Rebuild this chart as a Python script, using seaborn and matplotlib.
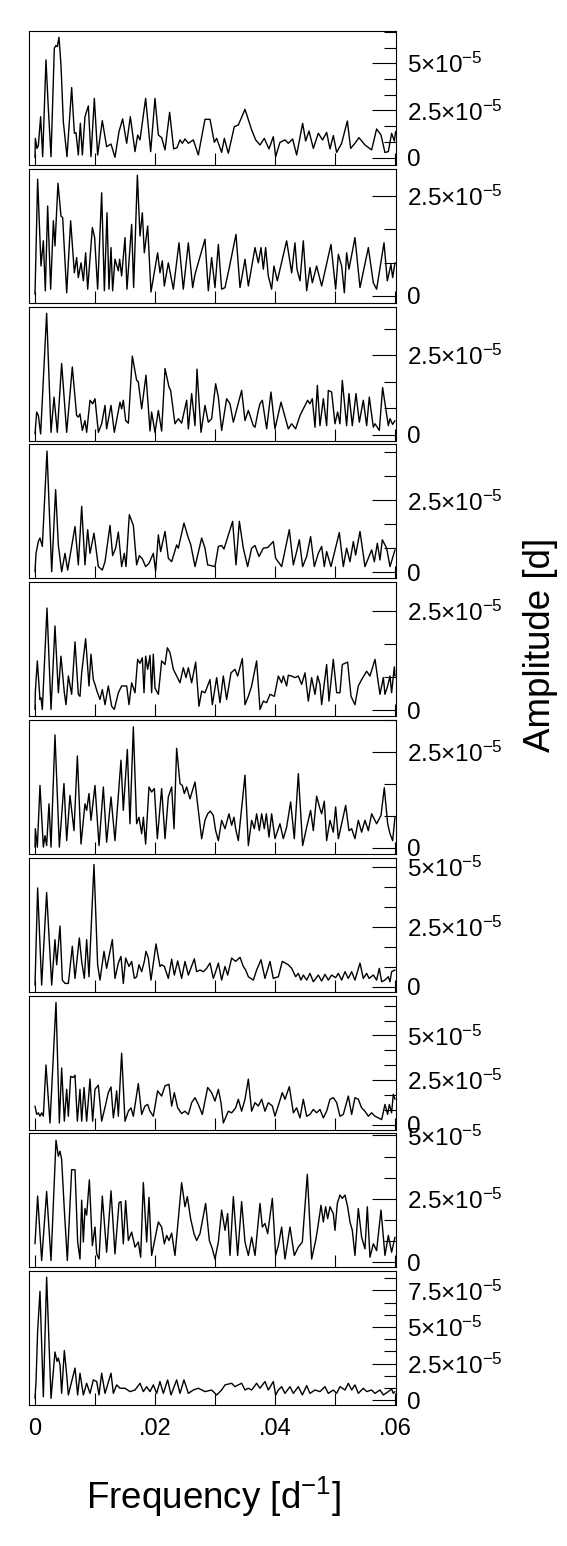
import numpy as np
import pandas as pd
import matplotlib
matplotlib.use("Agg")
import matplotlib.pyplot as plt
import seaborn as sns
from matplotlib.ticker import FixedLocator, FuncFormatter

sns.set_style("white")
plt.rcParams['font.family'] = ['Liberation Sans', 'DejaVu Sans']
plt.rcParams['mathtext.fontset'] = 'custom'
plt.rcParams['mathtext.rm'] = 'Liberation Sans'
plt.rcParams['mathtext.it'] = 'Liberation Sans:italic'
plt.rcParams['mathtext.bf'] = 'Liberation Sans:bold'
plt.rcParams['text.color'] = 'black'
plt.rcParams['axes.labelcolor'] = 'black'
plt.rcParams['xtick.color'] = 'black'
plt.rcParams['ytick.color'] = 'black'

# ---------------- data (frequency in 1e-3 d^-1, amplitude in 1e-5 d) ----------------
f1 = [0.00,0.06,0.33,0.56,0.94,1.28,1.83,2.22,2.67,3.22,3.50,3.72,4.00,4.33,4.72,5.33,6.11,6.56,6.83,7.22,7.56,7.89,8.33,8.89,9.33,9.89,10.44,11.22,11.94,12.67,13.33,14.0,14.61,15.28,15.89,16.67,17.11,17.5,18.44,19.28,20.0,20.56,21.11,21.67,22.44,23.11,23.67,24.17,24.56,25.0,25.56,26.39,27.22,28.33,29.17,29.89,30.28,31.11,31.56,32.22,33.22,33.89,35.0,36.11,36.78,37.5,38.22,39.0,39.72,40.11,40.83,41.67,42.22,42.94,43.61,44.61,45.11,45.67,46.39,47.22,47.94,48.61,49.17,49.72,50.28,51.11,52.06,52.61,53.33,54.0,55.0,56.11,56.94,57.67,58.33,58.89,59.44,59.89,60.1]
a1 = [0.00,1.02,0.49,0.64,2.17,0.05,5.18,2.61,0.05,5.80,5.94,5.88,6.38,4.91,1.91,0.05,3.71,1.29,1.33,0.14,1.82,0.14,2.17,2.74,0.05,3.14,0.14,1.96,0.58,0.72,0.02,1.38,2.05,0.76,2.17,0.32,1.20,0.94,3.14,0.32,3.14,1.20,1.06,0.41,2.40,0.46,0.53,0.94,0.76,0.99,0.76,0.94,0.14,2.03,2.03,0.81,1.02,0.28,1.02,0.23,1.64,1.73,2.56,1.47,0.94,0.67,1.02,0.46,1.11,0.05,0.81,0.94,0.76,0.99,0.14,1.82,0.88,1.41,0.49,1.29,0.94,1.34,0.46,1.17,0.28,0.76,1.94,0.49,0.76,1.06,0.67,0.41,1.52,1.20,0.27,0.32,1.29,0.88,1.38]

f2 = [0,0.44,1.0,1.39,1.72,2.11,2.61,3.06,3.33,3.83,4.33,4.61,5.28,5.94,6.56,6.94,7.22,7.67,8.06,8.44,8.78,9.56,9.94,10.44,11.11,11.56,12.0,12.33,12.67,12.94,13.33,13.89,14.11,14.44,15.0,15.33,16.11,16.44,17.06,17.5,17.89,18.22,18.78,19.33,20.44,20.83,21.22,21.56,22.22,23.06,24.0,24.72,25.56,26.28,26.67,28.33,28.89,29.44,30.0,30.56,31.11,31.67,32.33,33.5,34.17,34.72,35.0,35.56,36.67,37.22,37.67,38.06,38.44,38.89,39.44,39.83,40.39,41.94,42.78,43.33,43.67,44.17,44.72,45.28,45.83,46.22,46.94,47.78,49.33,50.11,50.56,51.11,51.56,51.94,52.33,53.33,54.17,55.56,56.39,56.94,58.17,58.72,59.33,59.61,60.0]
a2 = [0.04,2.92,0.75,1.38,0.13,2.25,0.17,1.88,1.25,2.82,2.0,1.96,0.08,1.88,0.58,0.96,0.46,0.83,0.38,1.08,0.17,1.71,1.46,0.17,2.58,0.13,2.08,0.17,1.21,0.13,0.92,0.63,0.92,0.5,1.46,0.17,1.79,0.21,3.02,1.5,2.08,1.08,1.75,0.1,1.08,0.58,0.88,0.25,0.83,0.17,1.33,0.17,1.33,0.21,0.54,1.42,0.13,0.96,0.21,1.29,0.17,0.21,0.67,1.54,0.21,0.67,0.92,0.25,1.21,0.83,1.21,0.67,1.21,0.5,0.17,0.75,0.38,1.38,0.58,1.33,0.67,0.38,1.38,0.13,0.71,0.33,0.75,0.25,1.29,0.17,1.04,0.75,0.08,1.08,0.67,1.46,0.21,1.21,0.33,0.17,1.33,0.38,0.79,0.46,0.83]

f3 = [0,0.28,0.56,0.94,1.94,2.67,3.17,3.72,4.44,5.28,6.22,6.94,7.22,7.5,7.89,8.33,8.61,9.17,9.61,10.0,10.56,11.11,11.67,11.94,12.67,13.22,14.17,14.44,14.72,15.11,15.56,16.22,16.94,17.22,17.78,18.5,19.17,19.44,20.0,20.56,21.11,21.67,22.33,22.61,23.33,23.89,24.44,25.28,25.56,26.11,26.67,27.0,27.67,28.33,28.89,29.44,30.11,30.56,31.11,31.94,32.5,33.06,34.44,35.0,35.56,36.39,36.67,37.22,37.5,37.89,38.61,39.33,40.0,41.0,42.22,42.78,43.44,44.17,44.72,45.44,45.83,46.22,46.67,47.06,47.5,48.06,48.61,48.89,49.44,50.0,50.44,50.83,51.22,51.94,52.33,52.89,53.5,54.06,54.72,55.28,55.72,56.39,56.67,57.39,57.94,58.89,59.17,59.61,60.0]
a3 = [0.02,0.71,0.6,0.02,3.82,0.07,1.18,0.07,2.24,0.07,2.13,0.6,0.55,0.65,0.13,0.44,0.07,1.08,0.97,1.13,0.07,0.34,0.92,0.18,0.92,0.07,1.02,0.81,1.08,0.44,0.36,2.47,1.71,1.66,0.81,1.87,0.11,0.71,0.07,0.76,0.11,2.08,1.5,1.39,0.34,0.5,0.36,1.08,0.18,1.29,0.28,2.06,0.07,0.92,0.39,0.5,1.6,1.18,0.13,1.13,0.97,0.39,1.39,0.44,0.76,0.28,0.23,0.76,0.97,1.08,0.18,1.34,0.18,1.02,0.18,0.34,0.18,0.6,0.81,1.08,0.97,1.13,0.23,1.55,0.28,1.13,0.28,1.39,1.34,0.34,0.71,0.34,1.71,0.28,1.29,0.28,1.29,0.39,1.08,0.28,1.18,0.23,0.34,0.13,1.48,0.28,0.5,0.32,0.44]

f4 = [0,0.17,0.56,0.83,1.22,2.0,2.78,3.44,3.89,4.44,5.0,5.44,6.67,7.22,7.78,8.33,8.78,9.17,9.83,10.56,11.22,11.67,12.5,12.94,13.44,13.89,14.44,14.89,15.17,15.72,16.39,16.94,17.39,17.89,18.44,19.0,19.72,20.11,20.56,20.94,21.67,22.22,22.78,23.61,23.89,24.83,25.56,25.94,26.67,27.78,28.33,28.78,30.0,30.56,31.11,31.5,32.94,33.5,34.06,34.72,35.44,36.11,36.67,37.33,38.06,38.78,39.72,40.11,41.11,42.39,43.06,43.61,44.06,44.61,45.28,45.94,46.56,47.22,47.78,48.22,48.61,49.33,50.72,51.39,51.94,52.5,53.06,53.44,54.17,55.0,56.11,56.56,57.06,57.5,57.89,58.61,59.17,60.0]
a4 = [0.02,0.66,1.07,1.19,0.9,4.21,0.02,2.87,0.95,0.02,0.66,0.08,1.59,0.26,2.29,0.26,1.48,0.66,1.36,0.2,0.08,0.37,1.63,0.58,0.84,1.4,0.2,0.66,0.2,2.0,1.63,0.26,0.58,0.47,0.2,0.31,0.66,0.05,1.3,0.72,1.42,0.49,0.37,0.95,0.84,1.71,1.19,0.98,0.2,1.19,0.84,0.26,0.2,0.9,0.93,0.81,1.77,0.26,1.77,0.84,0.2,0.84,0.93,0.55,0.84,0.86,1.07,0.49,0.2,1.48,0.26,0.72,1.13,0.2,0.55,1.24,0.2,0.66,0.9,0.2,0.72,0.2,1.38,0.2,0.84,0.37,1.07,0.6,1.42,0.2,0.78,0.37,1.01,0.43,1.13,0.84,0.2,0.78]

f5 = [0,0.06,0.39,0.83,1.0,1.22,2.0,2.67,3.33,3.89,4.33,4.89,5.17,5.56,6.11,6.67,7.22,7.5,7.78,8.44,9.0,9.33,9.72,10.0,10.33,10.83,11.22,11.67,12.22,12.78,13.22,13.89,14.44,15.28,15.67,16.11,16.67,17.11,17.5,17.89,18.17,18.44,18.78,19.17,19.44,19.72,20.0,20.56,21.11,21.67,22.06,22.5,23.06,23.61,24.17,24.72,25.17,25.56,26.11,26.78,27.33,27.78,28.33,29.17,29.56,30.28,30.83,31.39,31.94,32.67,33.33,33.78,34.56,35.0,35.56,36.11,36.94,37.5,38.06,38.61,39.17,39.89,40.56,41.11,41.39,41.94,42.22,42.78,43.33,43.89,44.44,45.0,45.56,46.11,46.67,47.11,47.5,47.78,48.61,49.0,49.72,50.28,50.83,51.22,52.11,52.67,53.33,53.89,54.44,55.28,55.83,56.67,57.22,57.5,58.06,58.33,58.78,59.17,59.44,59.89,60.0]
a5 = [0.02,0.48,1.24,0.27,0.31,0.02,2.57,0.02,2.12,0.44,1.36,0.44,0.14,0.86,0.4,1.72,0.4,0.35,0.94,1.8,0.61,1.41,0.77,0.65,0.48,0.27,0.52,0.14,0.61,0.1,0.02,0.44,0.61,0.61,0.14,0.69,0.44,1.28,1.18,1.32,0.44,1.36,1.03,1.38,0.44,1.41,0.56,0.4,1.24,1.15,1.57,1.45,1.03,0.86,0.69,1.07,0.82,1.07,0.69,1.21,0.1,0.48,0.44,0.77,0.14,0.82,0.19,0.86,0.27,0.94,1.03,0.86,1.3,0.14,0.35,0.61,1.24,0.02,0.23,0.19,0.4,0.35,0.86,0.69,0.86,0.61,0.88,0.86,0.82,0.86,0.65,0.94,0.23,0.82,0.4,0.86,0.65,0.14,1.15,0.23,1.28,0.44,0.44,1.15,1.21,0.35,0.14,0.61,0.77,0.98,0.86,1.28,0.69,0.4,0.82,0.4,0.61,0.86,0.44,1.09,0.86]

f6 = [0,0.06,0.39,0.83,1.39,1.67,1.94,2.33,2.67,3.33,4.06,4.83,5.28,5.83,6.5,7.06,7.67,8.33,8.61,9.0,9.33,10.0,10.67,11.39,11.94,12.67,13.33,14.33,14.72,15.39,15.83,16.39,16.94,17.33,17.78,18.06,18.44,19.0,19.44,19.89,20.39,21.11,21.67,22.22,22.78,23.17,23.61,24.17,24.56,24.89,25.28,25.83,26.67,27.22,27.78,28.33,28.78,29.22,29.72,30.11,30.56,31.11,31.67,32.33,32.78,33.17,33.44,33.89,35.0,35.56,36.11,36.56,36.94,37.39,37.78,38.22,38.56,39.0,39.44,40.0,40.83,41.39,41.94,42.61,43.22,43.89,44.61,45.28,45.94,46.39,46.94,47.5,47.78,48.22,48.61,49.17,49.72,50.11,50.56,51.11,51.78,52.33,52.78,53.33,53.89,54.44,55.0,55.56,56.11,56.94,57.67,58.22,58.78,59.17,59.61,60.0]
a6 = [0.02,0.5,0.02,1.63,0.02,0.32,0.06,1.15,0.02,2.95,0.02,1.68,0.19,1.37,0.45,2.4,0.1,1.15,0.98,1.42,0.72,1.63,0.06,1.59,0.15,1.33,0.19,2.29,0.98,2.57,0.63,3.16,0.63,0.8,0.37,0.8,0.1,1.59,1.46,1.55,0.24,1.55,0.24,1.33,1.59,0.5,2.6,1.68,1.63,1.42,1.59,1.28,1.72,0.98,0.24,0.72,0.89,0.96,0.85,0.45,0.19,0.72,0.5,0.89,0.59,0.8,0.5,0.19,1.9,0.06,0.72,0.5,0.89,0.45,0.89,0.5,0.89,0.28,0.89,0.24,0.63,0.24,0.54,1.2,0.24,1.94,0.06,0.54,0.98,0.45,1.35,1.02,0.89,1.22,0.19,0.72,0.41,1.07,0.24,0.63,1.11,0.45,0.5,0.24,0.72,0.41,0.72,0.45,0.89,0.63,0.85,1.57,0.63,0.37,0.19,0.8]

f7 = [0,0.44,1.11,1.94,2.78,3.33,3.61,4.17,4.56,5.0,5.56,6.22,6.67,7.39,7.78,8.22,8.61,9.0,9.83,10.44,10.83,11.5,11.94,12.89,13.33,13.89,14.33,14.72,15.11,15.67,16.11,16.56,16.94,17.33,17.78,18.22,18.5,18.89,19.33,20.17,20.83,21.11,21.56,22.22,22.78,23.22,23.78,24.44,25.0,25.56,26.56,26.94,27.5,28.06,28.61,29.17,29.72,30.11,30.56,31.11,31.67,32.11,32.78,33.44,34.17,34.72,35.11,35.56,36.39,36.94,37.67,38.33,39.17,39.72,40.56,41.22,42.22,42.78,43.44,43.89,44.33,44.72,45.28,45.83,46.39,47.22,47.78,48.33,48.89,49.44,50.11,50.56,51.11,51.67,52.22,52.78,53.33,54.17,54.72,55.28,55.67,56.39,56.94,57.39,57.78,58.33,58.89,59.17,59.44,60.0]
a7 = [0.07,4.13,0.07,3.94,0.07,1.97,0.92,2.54,0.28,0.14,0.14,1.69,0.35,2.04,1.06,0.35,1.97,0.42,5.11,0.92,0.28,1.48,0.77,1.97,0.35,0.99,1.27,0.14,1.2,0.85,1.06,0.35,0.42,0.92,0.63,1.06,1.48,1.2,0.28,1.79,0.85,0.92,0.85,0.35,1.15,0.49,1.08,0.35,1.06,0.49,1.17,0.63,0.7,0.63,0.77,0.99,0.35,0.63,0.99,0.28,0.85,0.49,1.2,1.06,1.23,0.85,0.7,0.42,0.28,0.7,1.13,0.35,1.06,0.35,0.42,1.06,0.92,0.77,0.42,0.56,0.28,0.49,0.28,0.56,0.21,0.49,0.24,0.52,0.28,0.49,0.38,0.56,0.28,0.63,0.35,0.63,0.28,0.99,0.35,0.56,0.35,0.49,0.28,0.77,0.21,0.28,0.42,0.21,0.63,0.7]

f8 = [0,0.28,0.56,0.83,1.11,1.39,1.83,2.5,3.5,4.06,4.44,4.89,5.28,5.56,5.94,6.39,6.67,7.06,7.5,7.78,8.17,8.61,9.17,9.61,10.0,10.56,11.11,11.78,12.22,12.67,13.06,13.33,13.61,13.89,14.44,15.0,15.56,16.0,16.39,17.22,17.78,18.33,18.78,19.17,19.72,20.44,21.11,21.67,22.33,22.78,23.22,23.78,24.44,25.0,25.56,26.11,26.67,27.22,27.89,28.78,29.44,30.0,30.56,31.0,31.39,32.22,32.78,33.44,33.89,34.44,35.0,35.56,36.11,36.67,37.22,37.78,38.33,38.89,39.56,40.0,41.22,41.67,42.39,43.06,43.61,44.17,44.72,45.28,45.83,46.39,46.94,47.5,48.06,48.61,49.17,49.72,50.28,50.83,51.39,52.22,52.78,53.33,53.89,54.44,55.0,55.56,56.11,56.67,57.22,57.78,58.33,58.78,59.06,59.44,59.72,60.0]
a8 = [1.04,0.57,0.66,0.47,0.66,0.47,3.34,0.09,6.85,0.09,3.17,0.19,1.98,0.47,2.7,2.64,2.77,0.19,1.98,0.19,2.08,0.19,2.55,0.19,1.98,2.21,0.19,1.13,1.79,2.11,0.38,1.04,1.89,0.47,4.0,0.19,0.75,0.94,0.47,2.3,0.57,1.04,1.13,0.75,0.47,1.89,1.6,2.17,2.26,1.04,1.79,0.94,0.62,0.75,0.57,1.23,1.51,1.13,0.57,2.08,1.79,1.32,1.98,1.23,0.09,0.75,0.66,0.94,1.42,0.75,1.42,2.55,0.75,1.23,1.04,1.42,0.75,1.23,1.04,0.47,1.79,1.42,2.13,0.66,0.94,0.38,1.42,0.47,0.57,0.85,0.66,0.85,0.38,0.75,1.42,1.51,1.23,0.47,0.57,1.6,0.57,1.51,1.42,0.94,0.75,0.47,0.66,0.47,0.38,0.28,1.13,0.57,1.13,0.66,1.7,1.42]

f9 = [0,0.44,1.11,1.94,2.67,3.5,3.89,4.17,4.44,4.89,5.39,6.11,6.67,7.11,7.5,7.78,8.06,8.33,8.61,9.06,9.56,10.0,10.28,10.67,11.22,11.94,12.67,13.33,14.0,14.33,14.72,15.11,15.56,16.11,16.67,17.22,17.61,18.06,18.61,19.0,19.44,20.0,20.56,21.11,21.56,21.94,22.33,22.78,23.33,24.44,25.0,25.39,25.94,26.5,26.94,27.5,28.44,29.06,29.56,30.0,30.56,31.11,31.67,32.11,32.5,33.06,33.78,34.44,35.0,35.56,36.11,36.67,37.5,37.89,38.33,38.78,39.56,40.11,40.56,41.11,41.67,42.5,43.22,43.89,44.56,45.39,46.11,46.78,47.11,47.67,48.06,48.44,48.78,49.17,49.72,50.0,50.39,50.83,51.22,51.67,52.11,52.5,52.89,53.33,53.89,54.44,55.0,55.39,55.83,56.39,56.94,57.67,58.33,58.89,59.44,60.0]
a9 = [0.73,2.61,0.07,2.79,0.07,4.81,4.18,4.38,4.05,2.06,0.07,3.65,3.65,0.8,0.13,2.45,0.8,2.12,1.86,3.25,0.66,1.39,0.33,0.13,2.61,0.4,2.82,0.33,2.35,2.39,0.73,2.43,0.86,1.19,0.6,0.8,0.2,3.14,0.8,2.56,0.27,0.93,1.59,1.39,0.73,1.06,0.86,1.15,0.27,3.14,2.19,2.59,1.72,1.13,0.86,1.13,2.32,0.86,0.53,0.13,0.8,2.06,1.26,1.92,0.27,2.59,0.27,2.39,0.8,0.27,0.99,0.27,2.32,1.39,1.53,1.13,2.52,0.27,0.66,1.39,0.13,1.39,0.27,0.6,0.8,3.47,0.13,0.86,1.33,2.25,1.59,2.19,1.72,2.19,1.92,1.26,2.32,2.65,2.52,2.65,2.19,1.59,1.26,0.27,2.12,0.99,0.53,2.19,0.2,0.73,0.46,2.06,0.27,1.06,0.4,0.99]

f10 = [0,0.17,0.44,0.83,1.39,1.94,2.67,3.33,3.67,3.89,4.17,4.44,4.89,5.28,5.56,6.11,6.67,7.11,7.5,8.06,8.61,9.17,9.72,10.28,10.67,11.11,11.67,12.67,13.06,13.61,14.17,15.0,15.83,16.67,17.5,18.06,18.61,19.17,19.72,20.28,20.83,21.39,22.11,22.67,23.61,24.17,24.83,25.56,26.39,27.22,28.33,29.44,30.28,31.11,31.67,32.78,33.33,33.89,34.44,35.0,35.56,36.11,36.94,37.5,38.33,38.89,39.72,40.11,40.56,41.11,41.67,42.5,43.06,43.89,44.56,45.28,45.83,46.67,47.5,48.33,48.89,49.72,50.28,50.83,51.67,52.22,52.78,53.33,53.89,54.72,55.28,56.11,56.67,57.5,58.06,58.89,59.44,59.72,60.0]
a10 = [0.12,1.27,4.72,7.44,0.23,8.41,0.12,3.29,2.65,2.88,2.42,0.46,3.39,1.73,0.35,1.27,2.19,0.35,1.84,0.35,1.15,0.46,1.38,1.27,0.35,1.84,0.46,1.84,0.46,1.04,0.81,0.81,0.58,0.69,1.15,0.58,0.92,0.58,1.04,0.46,1.27,0.46,1.38,0.35,1.38,0.46,1.38,0.46,0.69,0.81,0.58,0.69,0.35,0.69,1.04,1.15,0.92,1.04,1.15,0.69,0.81,0.69,1.15,0.81,1.27,0.69,1.27,0.35,0.69,0.92,0.46,0.92,0.46,0.92,0.35,0.99,0.46,0.69,0.58,0.92,0.46,0.69,0.46,0.92,0.69,1.15,0.69,1.04,0.46,0.81,0.58,0.69,0.46,0.69,0.35,0.58,0.76,0.46,0.58]

# y-range of each panel (1e-5 d)
y_ranges = [(-0.39, 6.71), (-0.17, 3.18), (-0.19, 4.03), (-0.21, 4.44), (-0.15, 3.22),
            (-0.16, 3.34), (-0.21, 5.39), (-0.28, 7.23), (-0.20, 5.08), (-0.35, 8.82)]

x_tick_values = [0.0, 0.02, 0.04, 0.06]
x_tick_labels = ["0", ".02", ".04", ".06"]
x_minor_values = [0.01, 0.03, 0.05]

FREQ_UNIT = 1e-3
AMP_UNIT = 1e-5

series = [(f1, a1), (f2, a2), (f3, a3), (f4, a4), (f5, a5),
          (f6, a6), (f7, a7), (f8, a8), (f9, a9), (f10, a10)]

# ---------------- figure ----------------
W, H = 567, 1546
fig = plt.figure(figsize=(W / 100, H / 100), dpi=100)

left_px, right_px = 29, 396
top0_px, pitch_px, height_px = 31, 137.8, 134


def amp_label(v, pos):
    m = round(v / AMP_UNIT, 3)
    if abs(m) < 1e-9:
        return "0"
    return rf"${m:g}{{\times}}10^{{-5}}$"


n = len(series)
for i, (f, a) in enumerate(series):
    top = top0_px + pitch_px * i
    ax = fig.add_axes([left_px / W, 1 - (top + height_px) / H,
                       (right_px - left_px) / W, height_px / H])
    df = pd.DataFrame({"freq": np.array(f) * FREQ_UNIT,
                       "amp": np.array(a) * AMP_UNIT})
    sns.lineplot(data=df, x="freq", y="amp", ax=ax, color="black",
                 linewidth=1.0, estimator=None, sort=False)
    ax.set_xlim(-0.001, 0.06017)
    ylo, yhi = y_ranges[i]
    ax.set_ylim(ylo * AMP_UNIT, yhi * AMP_UNIT)
    ax.set_xlabel("")
    ax.set_ylabel("")

    # x ticks
    ax.xaxis.set_major_locator(FixedLocator(x_tick_values))
    ax.xaxis.set_minor_locator(FixedLocator(x_minor_values))
    ax.set_xticklabels(x_tick_labels)
    ax.tick_params(axis="x", which="both", direction="in", length=9, width=0.8,
                   color="black", bottom=True, top=False,
                   labelbottom=(i == n - 1), pad=9, labelsize=17)

    # y ticks on the right
    majors = [k * 2.5 * AMP_UNIT for k in range(0, 5) if k * 2.5 <= yhi]
    minors = [k * (2.5 / 3) * AMP_UNIT for k in range(0, 12)
              if k * (2.5 / 3) <= yhi and k % 3 != 0]
    ax.yaxis.set_major_locator(FixedLocator(majors))
    ax.yaxis.set_minor_locator(FixedLocator(minors))
    ax.yaxis.set_major_formatter(FuncFormatter(amp_label))
    ax.tick_params(axis="y", which="major", direction="in", length=17, width=0.8,
                   color="black", left=False, right=True, labelleft=False,
                   labelright=True, pad=8, labelsize=17.5, labelcolor="black")
    ax.tick_params(axis="y", which="minor", direction="in", length=8.5, width=0.8,
                   color="black", left=False, right=True)
    for s in ax.spines.values():
        s.set_visible(True)
        s.set_color("black")
        s.set_linewidth(0.8)
    ax.grid(False)

fig.text(213 / W, 1 - 1497 / H, r"Frequency [d$^{-1}$]", ha="center", va="center",
         fontsize=26.5, color="black")
fig.text(541 / W, 1 - 645 / H, "Amplitude [d]", ha="center", va="center",
         rotation=90, fontsize=26.5, color="black")

fig.savefig("out.png", dpi=100)
